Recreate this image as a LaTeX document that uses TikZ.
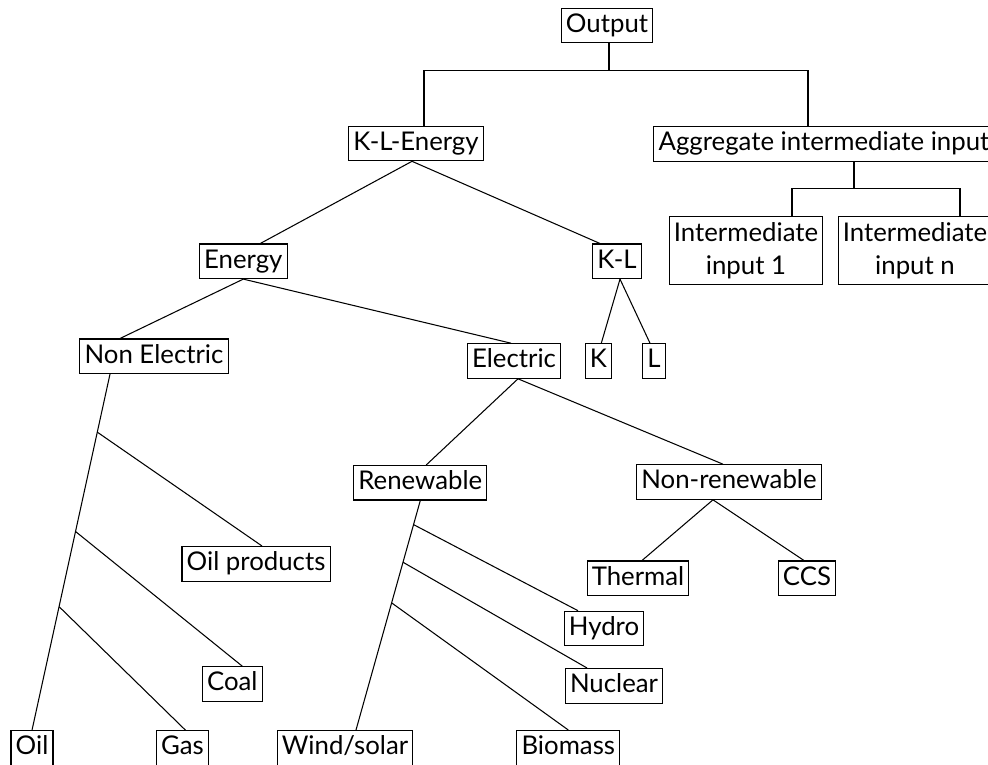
\documentclass[tikz,border=0pt]{standalone}
\usepackage{fontspec}
\setmainfont{Lato}
\usetikzlibrary{calc}

\begin{document}
\begin{tikzpicture}[x={(0.03cm,0cm)}, y={(0cm,-0.03cm)},
	box/.style={draw, line width=0.9pt, inner xsep=4pt, inner ysep=4pt, align=center, font=\fontsize{22}{28}\selectfont},
	tag/.style={box, text height=16.5pt, text depth=5pt},
	twoline/.style={box, inner ysep=5pt},
	link/.style={line width=0.9pt}]
	\clip (0,0) rectangle (988,765);
	% top levels
	\node[tag] (out) at (607,25.5) {Output};
	\node[tag] (kle) at (416,143.5) {K-L-Energy};
	\node[tag] (agg) at (824,144) {Aggregate intermediate input};
	\node[twoline] (int1) at (746,250.5) {Intermediate\\input 1};
	\node[twoline] (intn) at (915,250.5) {Intermediate\\input n};
	\node[tag] (kl) at (617,261.3) {K-L};
	\node[tag] (energy) at (243.3,261.3) {Energy};
	\node[tag] (k) at (598.3,361) {K};
	\node[tag] (l) at (654,361) {L};
	\node[tag] (nonel) at (154,356.3) {Non Electric};
	\node[tag] (elec) at (514,361) {Electric};
	% electric
	\node[tag] (ren) at (420.3,482.7) {Renewable};
	\node[tag] (nonren) at (729,482) {Non-renewable};
	\node[tag] (thermal) at (638,578.3) {Thermal};
	\node[tag] (ccs) at (807,578.3) {CCS};
	\node[tag] (hydro) at (604,628.5) {Hydro};
	\node[tag] (nuclear) at (614,685.8) {Nuclear};
	\node[tag] (wind) at (345,747.8) {Wind/solar};
	\node[tag] (biomass) at (568.3,747.8) {Biomass};
	% non electric
	\node[tag] (oilp) at (256,563.8) {Oil products};
	\node[tag] (coal) at (232.3,684) {Coal};
	\node[tag] (oil) at (32,748) {Oil};
	\node[tag] (gas) at (182.5,748) {Gas};

	\draw[link] ($(out.south)+(2,0)$) -- ++(0,27) -| ($(kle.north)+(8,0)$);
	\draw[link] ($(out.south)+(2,0)$) -- ++(0,27) -| ($(agg.north)+(-16,0)$);
	\draw[link] ($(agg.south)+(30,0)$) -- ++(0,27) -| ($(int1.north)+(46,0)$);
	\draw[link] ($(agg.south)+(30,0)$) -- ++(0,27) -| ($(intn.north)+(45,0)$);

	\draw[link] ($(kle.south)+(-4,0)$) -- ($(energy.north)+(17,0)$);
	\draw[link] ($(kle.south)+(-4,0)$) -- ($(kl.north)+(-17,0)$);
	\draw[link] ($(kl.south)+(3,0)$) -- ($(k.north)+(3,0)$);
	\draw[link] ($(kl.south)+(3,0)$) -- ($(l.north)+(-4,0)$);
	\draw[link] (energy.south) -- ($(nonel.north)+(-34,0)$);
	\draw[link] (energy.south) -- ($(elec.north)+(-3,0)$);
	\draw[link] ($(elec.south)+(4,0)$) -- ($(ren.north)+(6,0)$);
	\draw[link] ($(elec.south)+(4,0)$) -- ($(nonren.north)+(-6,0)$);
	\draw[link] ($(nonren.south)+(-16,0)$) -- ($(thermal.north)+(4,0)$);
	\draw[link] ($(nonren.south)+(-16,0)$) -- ($(ccs.north)+(-3,0)$);

	% nested branches
	\coordinate (nb) at ($(nonel.south)+(-44,0)$);
	\draw[link] (nb) -- (oil.north);
	\draw[link] ($(nb)!0.163!(oil.north)$) -- ($(oilp.north)+(6,0)$);
	\draw[link] ($(nb)!0.442!(oil.north)$) -- ($(coal.north)+(10,0)$);
	\draw[link] ($(nb)!0.653!(oil.north)$) -- ($(gas.north)+(3,0)$);
	\coordinate (rb) at (ren.south);
	\draw[link] (rb) -- ($(wind.north)+(11,0)$);
	\draw[link] ($(rb)!0.105!($(wind.north)+(11,0)$)$) -- ($(hydro.north)+(-26,0)$);
	\draw[link] ($(rb)!0.269!($(wind.north)+(11,0)$)$) -- ($(nuclear.north)+(-27,0)$);
	\draw[link] ($(rb)!0.446!($(wind.north)+(11,0)$)$) -- (biomass.north);
\end{tikzpicture}
\end{document}
